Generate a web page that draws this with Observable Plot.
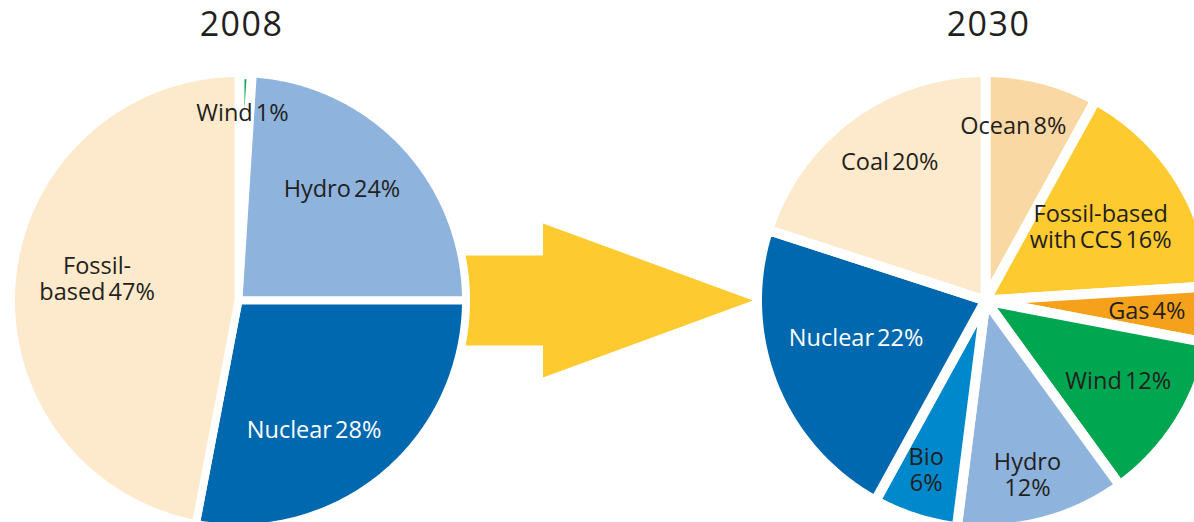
<!DOCTYPE html>
<html><head><meta charset="utf-8">
<script src="https://cdn.jsdelivr.net/npm/d3@7"></script>
<script src="https://cdn.jsdelivr.net/npm/@observablehq/plot@0.6"></script>
<style>
html,body{margin:0;padding:0;background:#fff;}
#chart svg text{word-spacing:-3px;}
</style>
</head><body><div id="chart"></div>
<script>
// ---- data ----
const years = ["2008", "2030"];
const categories2008 = ["Wind", "Hydro", "Nuclear", "Fossil-based"];
const values2008 = [1, 24, 28, 47];
const labels2008 = ["Wind 1%", "Hydro 24%", "Nuclear 28%", "Fossil-\nbased 47%"];
const categories2030 = ["Ocean", "Fossil-based with CCS", "Gas", "Wind", "Hydro", "Bio", "Nuclear", "Coal"];
const values2030 = [8, 16, 4, 12, 12, 6, 22, 20];
const labels2030 = ["Ocean 8%", "Fossil-based\nwith CCS 16%", "Gas 4%", "Wind 12%", "Hydro\n12%", "Bio\n6%", "Nuclear 22%", "Coal 20%"];
const colorDomain = ["Fossil-based", "Coal", "Ocean", "Fossil-based with CCS", "Gas", "Wind", "Hydro", "Bio", "Nuclear"];
const colorRange = ["#fde9cb", "#fde9cb", "#fad8a3", "#fdca2f", "#f6a11c", "#00a650", "#8eb3dc", "#0088cc", "#0068ae"];

// ---- layout ----
const W = 1194, H = 522;
const pies = [
  {year: years[0], cats: categories2008, vals: values2008, labels: labels2008, cx: 238, cy: 300, r: 227.5, gap: 8,
   lab: [[0.84, -0.6], [0.68, -3.9], [0.67, 9.3], [0.64, 3.3]]},
  {year: years[1], cats: categories2030, vals: values2030, labels: labels2030, cx: 985, cy: 300, r: 228.5, gap: 10,
   lab: [[0.79, -5.4], [0.61, -0.3], [0.72, 0], [0.69, -1.4], [0.80, 0.9], [0.80, 1.3], [0.60, 5.4], [0.75, 1.3]]}
];

const slices = [], labelRows = [], titles = [];
for (const p of pies) {
  titles.push({text: p.year, x: p.cx + 3, y: 25});
  const arcs = d3.pie().sort(null).value(d => d)(p.vals);
  arcs.forEach((a, i) => {
    const key = p.year + "-" + i, cat = p.cats[i];
    const span = a.endAngle - a.startAngle;
    const sw = span < 0.1 ? p.gap + 4 : p.gap;
    slices.push({key, cat, x: p.cx, y: p.cy, sw});
    const n = Math.max(2, Math.ceil(span / 0.01));
    for (let k = 0; k <= n; k++) {
      const t = a.startAngle + span * k / n;
      slices.push({key, cat, x: p.cx + p.r * Math.sin(t), y: p.cy - p.r * Math.cos(t), sw});
    }
    const mid = (a.startAngle + a.endAngle) / 2 + p.lab[i][1] * Math.PI / 180;
    const rr = p.lab[i][0] * (p.r - 4);
    labelRows.push({text: p.labels[i], x: p.cx + rr * Math.sin(mid), y: p.cy - rr * Math.cos(mid), light: cat === "Nuclear"});
  });
}

// arrow between the pies
const L = pies[0], R = pies[1];
const tipX = R.cx - R.r - 4, headX = tipX - 210;
const arrowPts = [
  {x: L.cx, y: L.cy - 45}, {x: headX, y: L.cy - 45}, {x: headX, y: L.cy - 77},
  {x: tipX, y: L.cy}, {x: headX, y: L.cy + 77}, {x: headX, y: L.cy + 45}, {x: L.cx, y: L.cy + 45}
];

const chart = Plot.plot({
  width: W, height: H, margin: 0,
  x: {domain: [0, W], range: [0, W], axis: null},
  y: {domain: [0, H], range: [0, H], axis: null},
  color: {domain: colorDomain, range: colorRange},
  style: {fontFamily: "'Open Sans', sans-serif", background: "#fff", overflow: "hidden"},
  marks: [
    Plot.line(arrowPts, {x: "x", y: "y", fill: "#fdca2f", stroke: "none", curve: "linear-closed"}),
    Plot.line(slices, {x: "x", y: "y", z: "key", fill: "cat", stroke: "white", strokeWidth: "sw", strokeLinejoin: "round", curve: "linear-closed"}),
    Plot.text(labelRows.filter(d => !d.light), {x: "x", y: "y", text: "text", fill: "#231f20", fontSize: 23.5, lineHeight: 1.1}),
    Plot.text(labelRows.filter(d => d.light), {x: "x", y: "y", text: "text", fill: "white", fontSize: 23.5, lineHeight: 1.1}),
    Plot.text(titles, {x: "x", y: "y", text: "text", fill: "#231f20", fontSize: 34, fontWeight: 500})
  ]
});
d3.select(chart).selectAll("text")
  .filter(function() { return years.includes(this.textContent); })
  .style("letter-spacing", "1.5px");
document.getElementById("chart").appendChild(chart);
</script>
</body></html>
